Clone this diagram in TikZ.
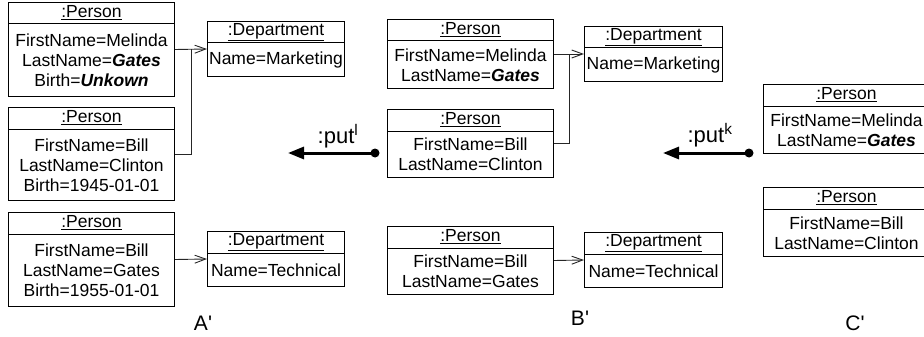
\documentclass[tikz,border=0pt]{standalone}
\usepackage{fontspec}
\setmainfont{Liberation Sans}
\newfontfamily\labelfont{Liberation Sans}
\usetikzlibrary{arrows.meta,calc}

\tikzset{
  objframe/.style={draw=black, line width=1pt, inner sep=0pt},
  objline/.style={draw=black, line width=1pt},
  objhead/.style={inner sep=0pt, font=\fontsize{17.5}{20}\selectfont},
  objbody/.style={inner sep=0pt, align=center, font=\fontsize{17.5}{20}\selectfont},
  link/.style={draw=black!85, line width=0.9pt},
  linkarrow/.style={link, -{Straight Barb[length=11pt,width=8pt,line width=0.9pt]}},
  putarrow/.style={draw=black, line width=3pt, -{Triangle[length=16pt,width=12pt]}},
  putdot/.style={circle, fill=black, inner sep=0pt, minimum size=9pt},
  putlabel/.style={inner sep=0pt, anchor=base, font=\fontsize{22}{24}\selectfont},
  statelabel/.style={inner sep=0pt, anchor=base, font=\labelfont\fontsize{21}{24}\selectfont},
}

% object box: name, left x, top y, width, height, header text, body text
\newcommand\umlobject[7]{%
  \node[objframe, minimum width=#4pt, minimum height=#5pt, anchor=north west] (#1) at (#2,#3) {};
  \draw[objline] ([yshift=-22pt]#1.north west) -- ([yshift=-22pt]#1.north east);
  \node[objhead] (#1-head) at ([yshift=-11pt]#1.north) {\underline{#6}};
  \node[objbody] (#1-body) at ($(#1.south)!0.5!([yshift=-22pt]#1.north)$) {#7};
}

\begin{document}
\begin{tikzpicture}[x=1pt, y=-1pt]
\path[use as bounding box, clip] (0,0) rectangle (924,337);

% ---- state A' ----
\umlobject{a1}{8}{2}{166}{94}{:Person}{FirstName=Melinda\\LastName=\textbf{\textit{Gates}}\\Birth=\textbf{\textit{Unkown}}}
\umlobject{a2}{8}{107}{166}{93}{:Person}{FirstName=Bill\\LastName=Clinton\\Birth=1945-01-01}
\umlobject{a3}{8}{212}{166}{94}{:Person}{FirstName=Bill\\LastName=Gates\\Birth=1955-01-01}
\umlobject{am}{207}{21}{137}{55}{:Department}{Name=Marketing}
\umlobject{at}{207}{231}{137}{55}{:Department}{Name=Technical}

\coordinate (aj) at ($(a1.east)!0.5!(am.west)$);
\draw[linkarrow] (a1.east) -- (am.west);
\draw[link] (a2.east) -| (aj);
\draw[linkarrow] (a3.east) -- (at.west);

% ---- state B' ----
\umlobject{b1}{387}{19}{166}{69}{:Person}{FirstName=Melinda\\LastName=\textbf{\textit{Gates}}}
\umlobject{b2}{387}{109}{166}{68}{:Person}{FirstName=Bill\\LastName=Clinton}
\umlobject{b3}{387}{226}{166}{68}{:Person}{FirstName=Bill\\LastName=Gates}
\umlobject{bm}{584}{26}{138}{55}{:Department}{Name=Marketing}
\umlobject{bt}{584}{232}{138}{55}{:Department}{Name=Technical}

\coordinate (bj) at ($(b1.east)!0.5!(bm.west)$);
\draw[linkarrow] (b1.east) -- (bm.west);
\draw[link] (b2.east) -| (bj);
\draw[linkarrow] (b3.east) -- (bt.west);

% ---- state C' ----
\umlobject{c1}{763}{84}{166}{69}{:Person}{FirstName=Melinda\\LastName=\textbf{\textit{Gates}}}
\umlobject{c2}{763}{187}{166}{69}{:Person}{FirstName=Bill\\LastName=Clinton}

% ---- put transitions ----
\node[putdot] (ldot) at (375,153) {};
\coordinate (ltip) at (288,153);
\draw[putarrow] (ldot.center) -- (ltip);
\node[putlabel] (llabel) at (338,143) {:put\textsuperscript{l}};

\node[putdot] (kdot) at (749,153) {};
\coordinate (ktip) at (663,153);
\draw[putarrow] (kdot.center) -- (ktip);
\node[putlabel] (klabel) at (710,142) {:put\textsuperscript{k}};

% ---- state names ----
\node[statelabel] (nameA) at (203,330) {A'};
\node[statelabel] (nameB) at (580,325) {B'};
\node[statelabel] (nameC) at (855,330) {C'};
\end{tikzpicture}
\end{document}
